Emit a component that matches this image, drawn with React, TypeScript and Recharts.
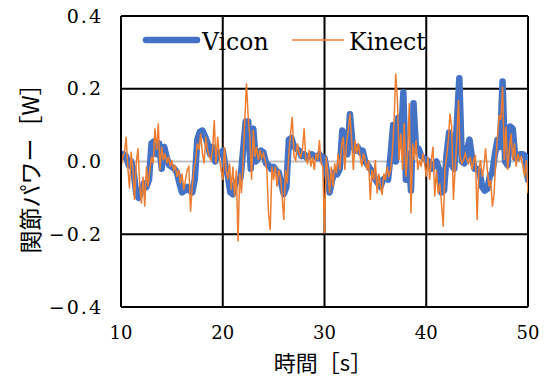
import React from "react";
import { LineChart, Line, XAxis, YAxis, CartesianGrid } from "recharts";

// 関節パワー [W], Vicon sampled every 0.25 s, Kinect every 1/6 s, from t = 10 s
const startTime = 10;
const viconStep = 0.25;
const kinectStep = 1 / 6;

const viconPower = [
  0.01, 0.02, 0.015, -0.01,
  0.0, -0.03, -0.09, -0.1,
  -0.08, -0.06, -0.07, -0.05,
  0.05, 0.055, 0.02, 0.05,
  -0.02, 0.04, 0.01, -0.01,
  -0.015, -0.02, -0.03, -0.06,
  -0.085, -0.08, -0.07, -0.08,
  -0.085, -0.05, 0.06, 0.082,
  0.085, 0.07, 0.05, 0.02,
  0.04, 0.0, 0.025, 0.02,
  0.03, -0.01, -0.04, -0.085,
  -0.09, -0.06, -0.05, -0.045,
  0.03, 0.11, 0.11, -0.02,
  0.09, 0.0, 0.01, 0.03,
  0.025, -0.005, -0.01, -0.02,
  -0.015, -0.025, -0.03, -0.06,
  -0.09, -0.07, 0.06, 0.065,
  0.04, 0.035, 0.03, 0.015,
  0.02, 0.01, 0.015, 0.02,
  0.015, 0.01, 0.02, 0.005,
  0.01, -0.03, -0.085, -0.05,
  -0.03, -0.035, -0.02, 0.085,
  0.05, 0.02, 0.13, 0.05,
  0.03, 0.04, 0.025, 0.03,
  0.0, -0.01, -0.02, -0.03,
  -0.05, -0.06, -0.07, -0.05,
  -0.045, -0.05, 0.02, 0.1,
  0.0, 0.12, 0.05, 0.19,
  -0.05, 0.02, -0.08, 0.16,
  0.03, 0.035, 0.015, 0.01,
  0.005, 0.0, -0.02, -0.01,
  0.0, -0.02, -0.085, -0.08,
  0.02, 0.08, -0.01, -0.02,
  0.1, 0.229, 0.0, -0.005,
  0.03, 0.06, 0.01, -0.02,
  -0.02, -0.03, -0.07, -0.08,
  -0.075, -0.04, -0.03, 0.02,
  0.06, 0.04, 0.22, 0.0,
  -0.01, 0.096, 0.09, 0.01,
  0.01, 0.02, 0.02, 0.015,
  -0.05,
];

const kinectPower = [
  -0.02, 0.013, 0.022, 0.068, -0.014, -0.074,
  0.027, -0.023, -0.106, -0.005, 0.036, -0.06,
  -0.115, -0.042, -0.124, -0.014, -0.069, -0.023,
  0.013, -0.005, 0.091, 0.032, 0.105, -0.023,
  0.041, 0.004, 0.022, -0.005, 0.013, -0.014,
  0.004, -0.023, -0.01, -0.042, -0.023, -0.06,
  -0.033, -0.078, -0.051, -0.023, -0.014, -0.138,
  -0.069, -0.023, 0.004, 0.05, 0.032, 0.077,
  0.022, -0.005, 0.068, 0.032, 0.013, 0.004,
  0.032, 0.114, -0.005, 0.068, 0.013, -0.023,
  -0.051, 0.04, -0.023, -0.05, -0.005, -0.078,
  -0.014, -0.097, -0.023, -0.22, -0.033, -0.087,
  -0.005, 0.114, 0.215, 0.123, 0.068, -0.05,
  0.087, 0.013, 0.04, 0.004, 0.032, 0.009,
  0.022, 0.004, -0.023, -0.143, -0.188, -0.014,
  -0.051, -0.014, -0.069, -0.023, -0.042, -0.097,
  -0.161, -0.023, -0.06, 0.022, 0.077, 0.123,
  0.013, 0.004, 0.05, 0.022, 0.013, 0.032,
  0.091, 0.004, -0.005, 0.032, -0.014, 0.013,
  -0.023, 0.022, 0.004, 0.059, -0.005, -0.014,
  -0.198, 0.013, -0.033, -0.088, -0.014, -0.069,
  -0.005, -0.033, 0.022, -0.023, 0.04, 0.068,
  -0.023, 0.05, 0.087, 0.132, 0.059, -0.023,
  0.059, 0.022, 0.05, 0.013, -0.014, 0.022,
  0.004, -0.023, 0.004, -0.106, -0.023, -0.051,
  0.004, -0.088, -0.033, -0.069, -0.092, -0.033,
  -0.051, -0.014, -0.042, -0.023, 0.022, 0.11,
  0.242, 0.169, 0.004, 0.077, -0.023, 0.105,
  -0.042, 0.022, 0.16, -0.143, 0.05, 0.004,
  0.059, -0.023, 0.004, -0.014, 0.022, -0.005,
  -0.042, 0.013, -0.051, 0.004, 0.041, -0.097,
  -0.023, -0.088, -0.06, -0.115, -0.179, -0.023,
  0.013, 0.059, 0.132, 0.096, -0.106, -0.023,
  0.059, 0.169, 0.013, -0.005, 0.004, 0.022,
  0.004, -0.005, 0.013, -0.023, 0.004, 0.018,
  -0.161, -0.023, 0.004, -0.042, -0.014, 0.036,
  -0.023, -0.069, -0.051, -0.124, -0.088, 0.004,
  0.068, 0.128, 0.114, 0.206, 0.004, 0.096,
  -0.023, 0.032, 0.077, 0.004, 0.05, -0.014,
  0.022, 0.004, 0.013, -0.014, -0.042, 0.004,
  -0.088,
];

const xTicks = [10, 20, 30, 40, 50];
const yTicks = [-0.4, -0.2, 0, 0.2, 0.4];

const viconData = viconPower.map((p, i) => ({ t: startTime + i * viconStep, p }));
const kinectData = kinectPower.map((p, i) => ({ t: startTime + i * kinectStep, p }));

const VICON = "#4472C4";
const KINECT = "#ED7D31";
const serif = "DejaVu Serif";
const jp = "Noto Sans CJK JP";

const fmtY = (v: number) => (v < 0 ? "\u2212" : "") + Math.abs(v).toFixed(1);

export default function App() {
  return (
    <div style={{ position: "absolute", left: 0, top: 0, width: 549, height: 387, background: "#fff" }}>
      <LineChart width={549} height={387} margin={{ top: 16, right: 21, bottom: 50, left: 61 }}>
        <CartesianGrid vertical={false} horizontalValues={[0]} stroke="#bfbfbf" strokeWidth={2} />
        <CartesianGrid horizontal={false} verticalValues={[20, 30, 40, 50]} stroke="#000" strokeWidth={2} />
        <CartesianGrid vertical={false} horizontalValues={[0.4, 0.2, -0.2]} stroke="#000" strokeWidth={2} />
        <XAxis
          type="number"
          dataKey="t"
          domain={[10, 50]}
          ticks={xTicks}
          allowDataOverflow
          height={30}
          tickSize={0}
          tickMargin={19}
          axisLine={{ stroke: "#000", strokeWidth: 2 }}
          tick={{ fill: "#000", fontSize: 18, style: { fontFamily: serif } }}
        />
        <YAxis
          type="number"
          domain={[-0.4, 0.4]}
          ticks={yTicks}
          allowDataOverflow
          width={60}
          tickSize={0}
          tickMargin={18}
          tickFormatter={fmtY}
          axisLine={{ stroke: "#000", strokeWidth: 2 }}
          tick={{ fill: "#000", fontSize: 19, style: { fontFamily: serif, letterSpacing: 2 } }}
        />
        <Line
          data={viconData}
          dataKey="p"
          stroke={VICON}
          strokeWidth={6.5}
          strokeLinejoin="round"
          strokeLinecap="round"
          dot={false}
          isAnimationActive={false}
        />
        <Line
          data={kinectData}
          dataKey="p"
          stroke={KINECT}
          strokeWidth={1.5}
          dot={false}
          isAnimationActive={false}
        />
      </LineChart>

      <svg width={549} height={387} style={{ position: "absolute", left: 0, top: 0, pointerEvents: "none" }}>
        <line x1={146} y1={40} x2={197} y2={40} stroke={VICON} strokeWidth={6.5} strokeLinecap="round" />
        <text x={202} y={50} fontSize={23.5} style={{ fontFamily: serif }} fill="#000">Vicon</text>
        <line x1={292} y1={40} x2={344} y2={40} stroke={KINECT} strokeWidth={1.5} />
        <text x={349} y={50} fontSize={23.5} style={{ fontFamily: serif }} fill="#000">Kinect</text>

        <text x={323} y={361} fontSize={22} style={{ fontFamily: jp }} fill="#000" textAnchor="middle" dominantBaseline="central">
          時間［s］
        </text>
        <text
          x={29}
          y={163}
          fontSize={23}
          style={{ fontFamily: jp }}
          fill="#000"
          textAnchor="middle"
          dominantBaseline="central"
          transform="rotate(-90 29 163)"
        >
          関節パワー［W］
        </text>
      </svg>
    </div>
  );
}
